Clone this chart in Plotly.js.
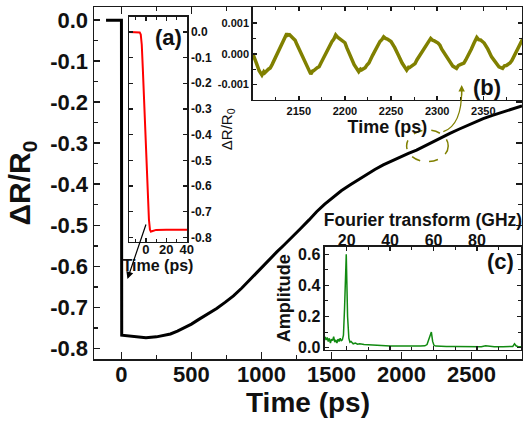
<!DOCTYPE html>
<html><head><meta charset="utf-8">
<script src="https://cdn.plot.ly/plotly-3.0.1.min.js"></script>
<style>body{margin:0;background:#fff}#chart{width:523px;height:424px}</style>
</head><body><div id="chart"></div>
<script>
// ---- main trace: reflectivity change vs time ----
const mainTime = [-110, -10, 0, 2, 50, 100, 175, 250, 300, 350, 400, 450, 500, 550, 615, 680, 740, 800, 860, 918, 989, 1060, 1110, 1156, 1220, 1280, 1340, 1394, 1450, 1510, 1570, 1632, 1690, 1750, 1810, 1870, 1930, 1990, 2050, 2108, 2170, 2230, 2290, 2346, 2410, 2470, 2530, 2584, 2650, 2720, 2790, 2861];
const mainSignal = [0, 0, 0, -0.768, -0.770, -0.772, -0.774, -0.772, -0.769, -0.765, -0.758, -0.750, -0.741, -0.730, -0.717, -0.703, -0.688, -0.672, -0.653, -0.632, -0.607, -0.581, -0.565, -0.550, -0.529, -0.508, -0.487, -0.467, -0.449, -0.432, -0.416, -0.402, -0.389, -0.376, -0.364, -0.353, -0.343, -0.334, -0.325, -0.317, -0.306, -0.296, -0.286, -0.276, -0.266, -0.257, -0.248, -0.240, -0.232, -0.224, -0.216, -0.209];
const mainXTicks = [0, 500, 1000, 1500, 2000, 2500];
const mainXLabels = ['0', '500', '1000', '1500', '2000', '2500'];
const mainYTicks = [0, -0.1, -0.2, -0.3, -0.4, -0.5, -0.6, -0.7, -0.8];
const mainYLabels = ['0.0', '-0.1', '-0.2', '-0.3', '-0.4', '-0.5', '-0.6', '-0.7', '-0.8'];

// ---- inset (a): first 40 ps ----
const insetATime = [-16.5, -8, -6, -5, -4, -3, -2, -1, 0, 1, 2, 3, 4, 5, 6, 8, 10, 20, 30, 40.3];
const insetASignal = [0, 0, -0.002, -0.01, -0.05, -0.14, -0.25, -0.37, -0.48, -0.58, -0.67, -0.73, -0.77, -0.778, -0.776, -0.772, -0.771, -0.770, -0.770, -0.770];
const insetAXTicks = [0, 20, 40];
const insetAXLabels = ['0', '20', '40'];

// ---- inset (b): oscillation ----
const insetBTime = [2100,2102,2104,2107,2110,2112,2113,2117,2119,2121,2125,2127,2129,2133,2135,2137,2138,2140,2144,2146,2148,2152,2154,2156,2160,2163,2165,2166,2170,2172,2174,2178,2180,2182,2186,2188,2190,2192,2194,2198,2200,2202,2206,2208,2210,2215,2217,2218,2222,2224,2226,2230,2232,2234,2238,2240,2242,2244,2246,2250,2252,2254,2258,2260,2262,2267,2269,2270,2274,2276,2278,2282,2284,2286,2290,2293,2295,2297,2301,2303,2305,2309,2311,2313,2317,2321,2323,2325,2329,2331,2333,2337,2340,2343,2345,2347,2351,2353,2355,2359,2361,2363,2367,2371,2373,2375,2379,2381,2383,2387,2389,2391,2393];
const insetBSignal = [0.00001,-0.00018,-0.0003,-0.00055,-0.00069,-0.00058,-0.00062,-0.0005,-0.00046,-0.00035,-0.0001,0.00002,0.00015,0.0004,0.00048,0.00066,0.0006,0.00062,0.0005,0.00044,0.0003,0.00005,-0.00008,-0.00025,-0.0005,-0.00066,-0.00056,-0.00055,-0.00045,-0.00042,-0.0003,-0.00005,0.00003,0.00015,0.0004,0.00048,0.00061,0.00054,0.0005,0.00042,0.00036,0.0002,-0.00005,-0.0002,-0.00035,-0.00058,-0.0005,-0.00052,-0.00045,-0.00036,-0.0003,-0.00005,0.00006,0.0002,0.0004,0.00046,0.00055,0.0005,0.00048,0.0004,0.00032,0.0002,-0.00005,-0.00018,-0.0003,-0.00053,-0.00044,-0.00045,-0.00035,-0.00032,-0.0002,0.0,0.00008,0.0002,0.0004,0.0005,0.00044,0.00042,0.00035,0.00028,0.00015,-0.00005,-0.00014,-0.00025,-0.0004,-0.00047,-0.00038,-0.00035,-0.0003,-0.0002,-0.0001,0.00015,0.00035,0.00053,0.00046,0.00045,0.00035,0.00027,0.00015,-0.0001,-0.00018,-0.0003,-0.00042,-0.00047,-0.00039,-0.00038,-0.0003,-0.00022,-0.0001,0.00015,0.00026,0.0004,0.0005];
const insetBXTicks = [2150, 2200, 2250, 2300, 2350];
const insetBXLabels = ['2150', '2200', '2250', '2300', '2350'];
const insetBYTicks = [0.001, 0, -0.001];
const insetBYLabels = ['0.001', '0.000', '-0.001'];

// ---- inset (c): Fourier transform ----
const fftFreq = [10,10.5,11,11.5,12,12.5,13,13.5,14,14.5,15,15.5,16,16.5,17,17.5,18,18.5,19,19.8,20.4,21,21.5,22,23,24,25,26,28,30,33,36,40,45,50,54,56,57,58,59,59.6,60.2,61,63,66,70,75,80,82,84,88,92,95,96.5,97.3,98,99,100.3];
const fftAmp = [0.07,0.05,0.065,0.04,0.06,0.03,0.055,0.045,0.07,0.035,0.05,0.03,0.055,0.04,0.06,0.045,0.05,0.08,0.25,0.6,0.2,0.06,0.035,0.04,0.025,0.03,0.022,0.025,0.02,0.018,0.015,0.012,0.01,0.01,0.008,0.01,0.012,0.02,0.06,0.1,0.04,0.015,0.01,0.008,0.008,0.007,0.008,0.007,0.006,0.012,0.006,0.006,0.005,0.008,0.025,0.012,0.006,0.006];
const fftXTicks = [20, 40, 60, 80];
const fftXLabels = ['20', '40', '60', '80'];
const fftYTicks = [0, 0.2, 0.4, 0.6];
const fftYLabels = ['0.0', '0.2', '0.4', '0.6'];

const FONT = 'Liberation Sans, Arial, sans-serif';
const AX = '#1a1a1a';
const OLIVE = '#808000';

function ax(extra) {
  return Object.assign({
    showline: true, linecolor: AX, linewidth: 1.5, ticks: 'inside', tickcolor: AX,
    tickwidth: 1.5, mirror: 'allticks', showgrid: false, zeroline: false, tickmode: 'array'
  }, extra);
}
function bold(size) { return {family: FONT, size: size, color: '#111', weight: 'bold'}; }

const traces = [
  {x: mainTime, y: mainSignal, xaxis: 'x', yaxis: 'y', mode: 'lines', line: {color: '#000', width: 3}, hoverinfo: 'skip'},
  {x: insetATime, y: insetASignal, xaxis: 'x2', yaxis: 'y2', mode: 'lines', line: {color: '#ff0000', width: 2}, hoverinfo: 'skip'},
  {x: insetBTime, y: insetBSignal, xaxis: 'x3', yaxis: 'y3', mode: 'lines', line: {color: OLIVE, width: 3.5}, hoverinfo: 'skip'},
  {x: fftFreq, y: fftAmp, xaxis: 'x4', yaxis: 'y4', mode: 'lines', line: {color: '#118a11', width: 1.5}, hoverinfo: 'skip'}
];

const layout = {
  width: 523, height: 424,
  margin: {l: 94, r: 1, t: 7, b: 65},
  paper_bgcolor: '#fff', plot_bgcolor: '#fff',
  showlegend: false,
  font: {family: FONT, color: '#111'},
  xaxis: ax({domain: [0, 1], anchor: 'y', range: [-196, 2861], tickvals: mainXTicks, ticktext: mainXLabels,
    ticklen: 7, tickfont: bold(22), ticklabelstandoff: -5,
    minor: {ticks: 'inside', tickmode: 'linear', tick0: 0, dtick: 250, ticklen: 4, tickcolor: AX, tickwidth: 1.5},
    title: {text: 'Time (ps)', font: bold(28), standoff: 6}}),
  yaxis: ax({domain: [0, 1], anchor: 'x', range: [-0.826, 0.032], tickvals: mainYTicks, ticktext: mainYLabels,
    ticklen: 6, tickfont: bold(22),
    minor: {ticks: 'inside', tickmode: 'linear', tick0: 0, dtick: 0.05, ticklen: 4, tickcolor: AX, tickwidth: 1.5},
    title: {text: 'ΔR/R<sub>0</sub>', font: bold(30), standoff: 10}}),
  xaxis2: ax({domain: [0.0818, 0.2173], anchor: 'y2', range: [-16.5, 40.3], tickvals: insetAXTicks, ticktext: insetAXLabels,
    ticklen: 4, tickfont: bold(13), ticklabelstandoff: -5,
    minor: {ticks: 'inside', tickmode: 'linear', tick0: 0, dtick: 10, ticklen: 3, tickcolor: AX, tickwidth: 1},
    title: {text: 'Time (ps)', font: bold(16), standoff: 4}}),
  yaxis2: ax({domain: [0.3332, 0.9716], anchor: 'x2', side: 'right', range: [-0.817, 0.058], tickvals: mainYTicks, ticktext: mainYLabels,
    ticklen: 4, tickfont: bold(12),
    title: {text: 'ΔR/R<sub>0</sub>', font: {family: FONT, size: 15, color: '#111'}, standoff: 10}}),
  xaxis3: ax({domain: [0.3708, 1], anchor: 'y3', range: [2100, 2392], tickvals: insetBXTicks, ticktext: insetBXLabels,
    ticklen: 4, tickfont: bold(11),
    minor: {ticks: 'inside', tickmode: 'linear', tick0: 2100, dtick: 25, ticklen: 3, tickcolor: AX, tickwidth: 1},
    title: {text: 'Time (ps)', font: bold(18), standoff: 1}}),
  yaxis3: ax({domain: [0.7358, 1], anchor: 'x3', range: [-0.0015, 0.00152], tickvals: insetBYTicks, ticktext: insetBYLabels,
    ticklen: 4, tickfont: bold(11),
    minor: {ticks: 'inside', tickmode: 'linear', tick0: 0, dtick: 0.0005, ticklen: 3, tickcolor: AX, tickwidth: 1}}),
  xaxis4: ax({domain: [0.5397, 0.9977], anchor: 'y4', side: 'top', range: [10, 100.3], tickvals: fftXTicks, ticktext: fftXLabels,
    ticklen: 4, tickfont: bold(16), ticklabelstandoff: -7,
    minor: {ticks: 'inside', tickmode: 'linear', tick0: 0, dtick: 10, ticklen: 3, tickcolor: AX, tickwidth: 1},
    title: {text: 'Fourier transform (GHz)', font: bold(17.5), standoff: 0}}),
  yaxis4: ax({domain: [0.0256, 0.319], anchor: 'x4', range: [-0.015, 0.649], tickvals: fftYTicks, ticktext: fftYLabels,
    ticklen: 4, tickfont: bold(16),
    minor: {ticks: 'inside', tickmode: 'linear', tick0: 0, dtick: 0.1, ticklen: 3, tickcolor: AX, tickwidth: 1},
    title: {text: 'Amplitude', font: bold(18), standoff: 2}}),
  shapes: [
    {type: 'circle', xref: 'x', yref: 'y', x0: 2037, x1: 2334, y0: -0.345, y1: -0.268,
     line: {color: OLIVE, width: 1.5, dash: 'dash'}},
    {type: 'path', xref: 'x', yref: 'y', path: 'M2299,-0.272 Q2432,-0.256 2430,-0.17',
     line: {color: OLIVE, width: 1.3}}
  ],
  annotations: [
    {xref: 'paper', yref: 'paper', x: 0.1729, y: 0.912, text: '(a)', showarrow: false, font: bold(22), xanchor: 'center', yanchor: 'middle'},
    {xref: 'paper', yref: 'paper', x: 0.918, y: 0.770, text: '(b)', showarrow: false, font: bold(22), xanchor: 'center', yanchor: 'middle'},
    {xref: 'paper', yref: 'paper', x: 0.9486, y: 0.2756, text: '(c)', showarrow: false, font: bold(22), xanchor: 'center', yanchor: 'middle'},
    {xref: 'x', yref: 'y', x: 43, y: -0.631, ax: 19, ay: -56, text: '', showarrow: true, arrowhead: 2, arrowsize: 1.2, arrowwidth: 1.2, arrowcolor: '#000'},
    {xref: 'x', yref: 'y', x: 2430, y: -0.1584, ax: 0, ay: 12, text: '', showarrow: true, arrowhead: 2, arrowsize: 1, arrowwidth: 1.3, arrowcolor: OLIVE}
  ]
};

Plotly.newPlot('chart', traces, layout, {staticPlot: true, displayModeBar: false});
</script>
</body></html>
